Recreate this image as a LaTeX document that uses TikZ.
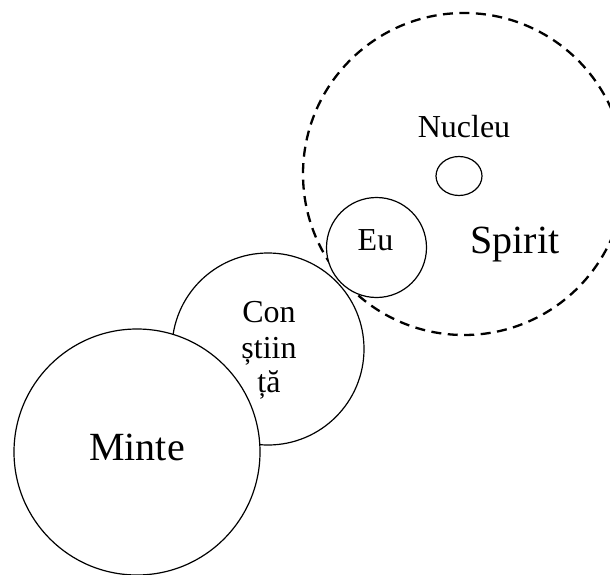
\documentclass[tikz,border=0pt]{standalone}
\usepackage{fontspec}
\setmainfont{Liberation Serif}
\usetikzlibrary{shapes.geometric}

\begin{document}
\begin{tikzpicture}[
        x = 1pt, y = -1pt,
        outer sep = 0mm, inner sep = 0mm,
        big/.style = {font = \fontsize{40}{44}\selectfont},
        small/.style = {font = \fontsize{32}{36}\selectfont},
        ring/.style = {
          circle, draw = black, line width = 1.2pt, fill = white,
        },
        cloud/.style = {
          circle, draw = black, line width = 2.3pt,
          dash pattern = on 10pt off 6.5pt,
        }
      ]

      \useasboundingbox (0,0) rectangle (610,575);
      \clip (0,0) rectangle (610,575);

      \node[cloud, minimum size = 322pt] (spirit) at (464,174) {};
      \node[ellipse, draw = black, line width = 1.2pt,
        minimum width = 46pt, minimum height = 39pt] (nucleus) at (459,176) {};
      \node[small, anchor = base] (nucleu) at (464,138) {Nucleu};
      \node[big, anchor = base] (spirit-t) at (515,253) {Spirit};

      \node[ring, minimum size = 192pt] (con) at (268,349) {};
      \node[ring, minimum size = 100pt] (eu) at (376.5,247.5) {};
      \node[small, anchor = base] (eu-t) at (375.5,250) {Eu};
      \foreach \t/\y in {Con/322, știin/358, ță/392}
        \node[small, anchor = base] (con-\y) at (269,\y) {\t};

      \node[ring, minimum size = 246pt] (minte) at (137,452) {};
      \node[big, anchor = base] (minte-t) at (137,460) {Minte};
      % \draw[red] (minte) to (con);
    \end{tikzpicture}
\end{document}
